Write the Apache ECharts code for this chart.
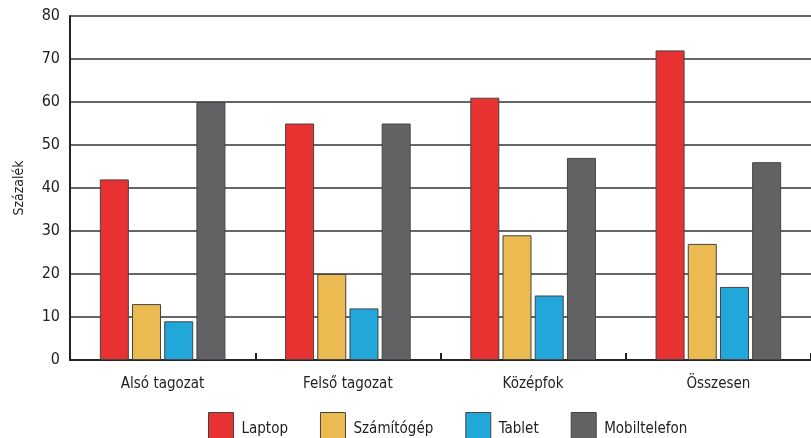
<!DOCTYPE html>
<html>
<head>
<meta charset="utf-8">
<script src="https://cdn.jsdelivr.net/npm/echarts@6/dist/echarts.min.js"></script>
<style>
html,body{margin:0;padding:0;background:#fff;}
#chart{width:811px;height:438px;}
</style>
</head>
<body>
<div id="chart"></div>
<script>
const categories = ['Alsó tagozat', 'Felső tagozat', 'Középfok', 'Összesen'];
const seriesNames = ['Laptop', 'Számítógép', 'Tablet', 'Mobiltelefon'];
const laptop = [42, 55, 61, 72];
const szamitogep = [13, 20, 29, 27];
const tablet = [9, 12, 15, 17];
const mobiltelefon = [60, 55, 47, 46];
const yTicks = [0, 10, 20, 30, 40, 50, 60, 70, 80];

const colors = ['#e83131', '#ebba50', '#21a7da', '#626264'];
const values = [laptop, szamitogep, tablet, mobiltelefon];
const FONT = '"Liberation Sans Narrow", "DejaVu Sans Condensed", "Roboto", sans-serif';

const chart = echarts.init(document.getElementById('chart'), null, {renderer: 'canvas'});
chart.setOption({
  animation: false,
  color: colors,
  grid: {left: 70, right: -2, top: 16, bottom: 78, containLabel: false},
  legend: {
    data: seriesNames,
    top: 407,
    left: 203,
    itemWidth: 25,
    itemHeight: 33,
    itemGap: 32,
    icon: 'rect',
    itemStyle: {borderColor: '#444', borderWidth: 1},
    textStyle: {fontFamily: FONT, fontSize: 15, color: '#222', padding: [0, 0, 0, 3]}
  },
  xAxis: {
    type: 'category',
    data: categories,
    axisLine: {lineStyle: {color: '#222', width: 2}},
    axisTick: {show: true, inside: true, length: 7, lineStyle: {color: '#222', width: 2}},
    axisLabel: {fontFamily: FONT, fontSize: 15, color: '#222', margin: 17}
  },
  yAxis: {
    type: 'value',
    min: yTicks[0],
    max: yTicks[yTicks.length - 1],
    interval: 10,
    name: 'Százalék',
    nameLocation: 'middle',
    nameGap: 44,
    nameTextStyle: {fontFamily: FONT, fontSize: 14, color: '#222'},
    axisLine: {show: true, lineStyle: {color: '#222', width: 2}},
    axisTick: {show: false},
    axisLabel: {fontFamily: FONT, fontSize: 16, color: '#222', margin: 10},
    splitLine: {lineStyle: {color: '#333', width: 1.5}}
  },
  series: seriesNames.map((n, i) => ({
    name: n,
    type: 'bar',
    data: values[i],
    barWidth: 29,
    barGap: '11%',
    itemStyle: {color: colors[i], borderColor: '#444', borderWidth: 1}
  }))
});
</script>
</body>
</html>
